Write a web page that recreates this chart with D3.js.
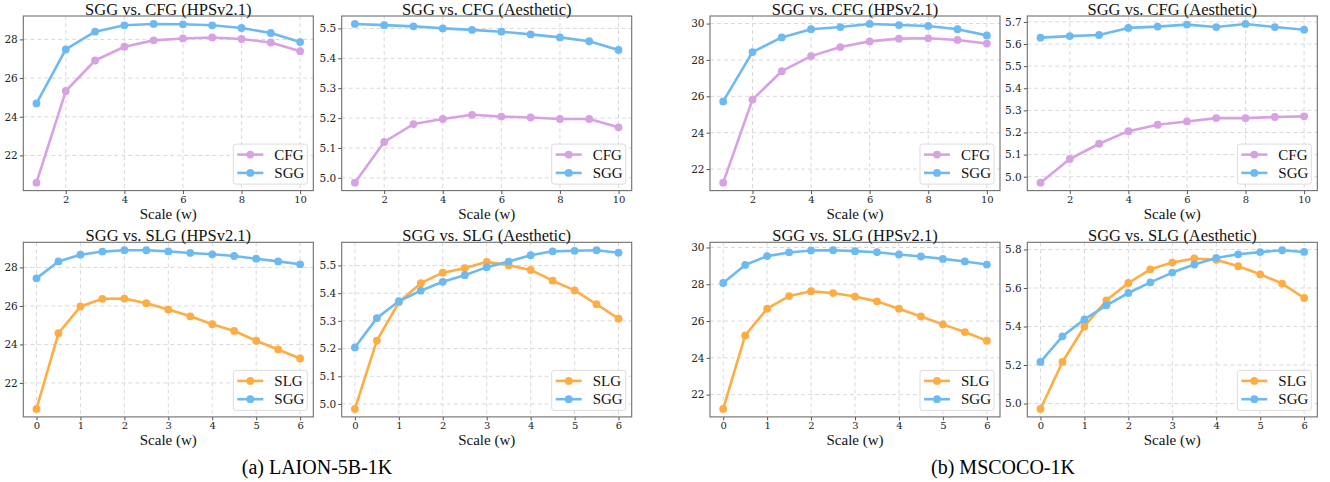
<!DOCTYPE html>
<html>
<head>
<meta charset="utf-8">
<script src="https://cdn.jsdelivr.net/npm/d3@7"></script>
<style>
  body { margin: 0; background: #fff; }
  svg { display: block; }
</style>
</head>
<body>
<div id="chart"></div>
<script>
// guidance scales
const cfgScales = [1, 2, 3, 4, 5, 6, 7, 8, 9, 10]
const slgScales = [0, 0.5, 1, 1.5, 2, 2.5, 3, 3.5, 4, 4.5, 5, 5.5, 6]

// (a) LAION-5B-1K
const laionCfgHps = [20.59, 25.33, 26.91, 27.62, 27.95, 28.05, 28.10, 28.02, 27.84, 27.39]
const laionSggHps = [24.69, 27.48, 28.40, 28.73, 28.80, 28.78, 28.73, 28.59, 28.33, 27.86]
const laionCfgAes = [4.984, 5.120, 5.180, 5.197, 5.211, 5.205, 5.202, 5.197, 5.197, 5.169]
const laionSggAes = [5.515, 5.511, 5.507, 5.500, 5.495, 5.489, 5.480, 5.470, 5.457, 5.428]
const laionSlgHps = [20.65, 24.58, 25.97, 26.37, 26.38, 26.14, 25.81, 25.46, 25.05, 24.70, 24.19, 23.74, 23.27]
const laionSggHpsS = [27.43, 28.31, 28.66, 28.82, 28.89, 28.89, 28.83, 28.75, 28.68, 28.59, 28.45, 28.31, 28.16]
const laionSlgAes = [4.982, 5.229, 5.367, 5.436, 5.474, 5.490, 5.513, 5.501, 5.484, 5.445, 5.410, 5.360, 5.308]
const laionSggAesS = [5.204, 5.310, 5.371, 5.409, 5.441, 5.465, 5.494, 5.514, 5.537, 5.551, 5.553, 5.555, 5.546]

// (b) MSCOCO-1K
const cocoCfgHps = [21.25, 25.82, 27.38, 28.21, 28.71, 29.02, 29.17, 29.19, 29.10, 28.90]
const cocoSggHps = [25.72, 28.43, 29.24, 29.69, 29.81, 29.98, 29.92, 29.87, 29.69, 29.35]
const cocoCfgAes = [4.973, 5.080, 5.149, 5.206, 5.235, 5.250, 5.265, 5.265, 5.270, 5.273]
const cocoSggAes = [5.629, 5.636, 5.641, 5.673, 5.679, 5.688, 5.677, 5.691, 5.677, 5.665]
const cocoSlgHps = [21.22, 25.22, 26.67, 27.36, 27.62, 27.52, 27.33, 27.07, 26.67, 26.25, 25.82, 25.40, 24.93]
const cocoSggHpsS = [28.07, 29.05, 29.53, 29.73, 29.84, 29.85, 29.80, 29.74, 29.62, 29.51, 29.38, 29.24, 29.07]
const cocoSlgAes = [4.972, 5.216, 5.400, 5.536, 5.626, 5.697, 5.732, 5.753, 5.746, 5.713, 5.671, 5.623, 5.548]
const cocoSggAesS = [5.216, 5.349, 5.437, 5.510, 5.574, 5.629, 5.680, 5.722, 5.756, 5.775, 5.786, 5.796, 5.787]

// tick labels
const cfgXTicks = [2, 4, 6, 8, 10]
const slgXTicks = [0, 1, 2, 3, 4, 5, 6]
const hpsYTicksLaion = [22, 24, 26, 28]
const hpsYTicksCoco = [22, 24, 26, 28, 30]
const aesYTicksLaion = [5.0, 5.1, 5.2, 5.3, 5.4, 5.5]
const aesYTicksCocoCfg = [5.0, 5.1, 5.2, 5.3, 5.4, 5.5, 5.6, 5.7]
const aesYTicksCocoSlg = [5.0, 5.2, 5.4, 5.6, 5.8]

const captions = ['(a) LAION-5B-1K', '(b) MSCOCO-1K']

const colors = { CFG: '#d7a1e3', SGG: '#6db9f2', SLG: '#ffac42' }

const width = 1330
const height = 482

const colLeft = [23.3, 341.7, 710, 1027.3]
const rowTop = [16, 242.3]
const panelW = 290
const panelH = 174.6

const panels = [
  { col: 0, row: 0, title: 'SGG vs. CFG (HPSv2.1)', x: cfgScales, xTicks: cfgXTicks, yTicks: hpsYTicksLaion, fmt: 'd',
    series: [['CFG', laionCfgHps], ['SGG', laionSggHps]] },
  { col: 1, row: 0, title: 'SGG vs. CFG (Aesthetic)', x: cfgScales, xTicks: cfgXTicks, yTicks: aesYTicksLaion, fmt: '.1f',
    series: [['CFG', laionCfgAes], ['SGG', laionSggAes]] },
  { col: 0, row: 1, title: 'SGG vs. SLG (HPSv2.1)', x: slgScales, xTicks: slgXTicks, yTicks: hpsYTicksLaion, fmt: 'd',
    series: [['SLG', laionSlgHps], ['SGG', laionSggHpsS]] },
  { col: 1, row: 1, title: 'SGG vs. SLG (Aesthetic)', x: slgScales, xTicks: slgXTicks, yTicks: aesYTicksLaion, fmt: '.1f',
    series: [['SLG', laionSlgAes], ['SGG', laionSggAesS]] },
  { col: 2, row: 0, title: 'SGG vs. CFG (HPSv2.1)', x: cfgScales, xTicks: cfgXTicks, yTicks: hpsYTicksCoco, fmt: 'd',
    series: [['CFG', cocoCfgHps], ['SGG', cocoSggHps]] },
  { col: 3, row: 0, title: 'SGG vs. CFG (Aesthetic)', x: cfgScales, xTicks: cfgXTicks, yTicks: aesYTicksCocoCfg, fmt: '.1f',
    series: [['CFG', cocoCfgAes], ['SGG', cocoSggAes]] },
  { col: 2, row: 1, title: 'SGG vs. SLG (HPSv2.1)', x: slgScales, xTicks: slgXTicks, yTicks: hpsYTicksCoco, fmt: 'd',
    series: [['SLG', cocoSlgHps], ['SGG', cocoSggHpsS]] },
  { col: 3, row: 1, title: 'SGG vs. SLG (Aesthetic)', x: slgScales, xTicks: slgXTicks, yTicks: aesYTicksCocoSlg, fmt: '.1f',
    series: [['SLG', cocoSlgAes], ['SGG', cocoSggAesS]] }
]

const svg = d3.select('#chart').append('svg')
  .attr('width', width)
  .attr('height', height)

const serif = '"Liberation Serif", "Times New Roman", serif'
const tickFont = '"DejaVu Serif", serif'

// matplotlib-like 5% margins
function padded(extent) {
  const pad = (extent[1] - extent[0]) * 0.05
  return [extent[0] - pad, extent[1] + pad]
}

panels.forEach(p => {
  const left = colLeft[p.col]
  const top = rowTop[p.row]
  const g = svg.append('g').attr('transform', `translate(${left},${top})`)

  const allY = p.series.flatMap(s => s[1])
  const x = d3.scaleLinear().domain(padded(d3.extent(p.x))).range([0, panelW])
  const y = d3.scaleLinear().domain(padded(d3.extent(allY))).range([panelH, 0])

  // grid
  const grid = g.append('g').attr('class', 'grid')
  grid.selectAll('line.gx').data(p.xTicks).join('line')
    .attr('class', 'gx')
    .attr('x1', d => x(d)).attr('x2', d => x(d))
    .attr('y1', 0).attr('y2', panelH)
  grid.selectAll('line.gy').data(p.yTicks).join('line')
    .attr('class', 'gy')
    .attr('x1', 0).attr('x2', panelW)
    .attr('y1', d => y(d)).attr('y2', d => y(d))
  grid.selectAll('line')
    .attr('stroke', '#d9d9d9')
    .attr('stroke-width', 1)
    .attr('stroke-dasharray', '4,3')

  // axes
  const xAxis = g.append('g')
    .attr('transform', `translate(0,${panelH})`)
    .call(d3.axisBottom(x).tickValues(p.xTicks).tickFormat(d3.format('d')).tickSize(3.5).tickPadding(1.5).tickSizeOuter(0))
  const yAxis = g.append('g')
    .call(d3.axisLeft(y).tickValues(p.yTicks).tickFormat(d3.format(p.fmt)).tickSize(3.5).tickPadding(2).tickSizeOuter(0))
  ;[xAxis, yAxis].forEach(a => {
    a.select('.domain').remove()
    a.selectAll('.tick line').attr('stroke', '#555')
    a.selectAll('.tick text')
      .attr('fill', '#222')
      .style('font-family', tickFont)
      .style('font-size', '10.5px')
  })
  xAxis.selectAll('.tick text').style('font-size', '10px')

  // frame
  g.append('rect')
    .attr('width', panelW).attr('height', panelH)
    .attr('fill', 'none')
    .attr('stroke', '#6e6e6e')
    .attr('stroke-width', 1.1)

  // series
  const line = d3.line().x((d, i) => x(p.x[i])).y(d => y(d))
  p.series.forEach(([name, values]) => {
    const sg = g.append('g').attr('class', 'series')
    sg.append('path')
      .datum(values)
      .attr('fill', 'none')
      .attr('stroke', colors[name])
      .attr('stroke-width', 2.6)
      .attr('stroke-linejoin', 'round')
      .attr('d', line)
    sg.selectAll('circle').data(values).join('circle')
      .attr('cx', (d, i) => x(p.x[i]))
      .attr('cy', d => y(d))
      .attr('r', 3.9)
      .attr('fill', colors[name])
  })

  // title and x label
  g.append('text')
    .attr('x', panelW / 2).attr('y', -1.3)
    .attr('text-anchor', 'middle')
    .style('font-family', serif)
    .style('font-size', '16.5px')
    .attr('fill', '#111')
    .text(p.title)
  g.append('text')
    .attr('x', panelW / 2).attr('y', panelH + 28)
    .attr('text-anchor', 'middle')
    .style('font-family', serif)
    .style('font-size', '15px')
    .attr('fill', '#111')
    .text('Scale (w)')

  // legend, lower right
  const lw = 74, lh = 40
  const lg = g.append('g').attr('transform', `translate(${panelW - lw - 6},${panelH - lh - 6.5})`)
  lg.append('rect')
    .attr('width', lw).attr('height', lh)
    .attr('rx', 2.5)
    .attr('fill', 'rgba(255,255,255,0.85)')
    .attr('stroke', '#dcdcdc')
  p.series.forEach(([name], i) => {
    const ry = 10.5 + i * 18.3
    lg.append('line')
      .attr('x1', 4).attr('x2', 30).attr('y1', ry).attr('y2', ry)
      .attr('stroke', colors[name]).attr('stroke-width', 2.6)
    lg.append('circle')
      .attr('cx', 17).attr('cy', ry).attr('r', 3.9)
      .attr('fill', colors[name])
    lg.append('text')
      .attr('x', 41).attr('y', ry + 5)
      .style('font-family', serif)
      .style('font-size', '15px')
      .attr('fill', '#111')
      .text(name)
  })
})

// sub-captions
const captionX = [317, 1003]
captions.forEach((c, i) => {
  svg.append('text')
    .attr('x', captionX[i]).attr('y', 473.5)
    .attr('text-anchor', 'middle')
    .style('font-family', serif)
    .style('font-size', '20px')
    .attr('fill', '#000')
    .text(c)
})
</script>
</body>
</html>
